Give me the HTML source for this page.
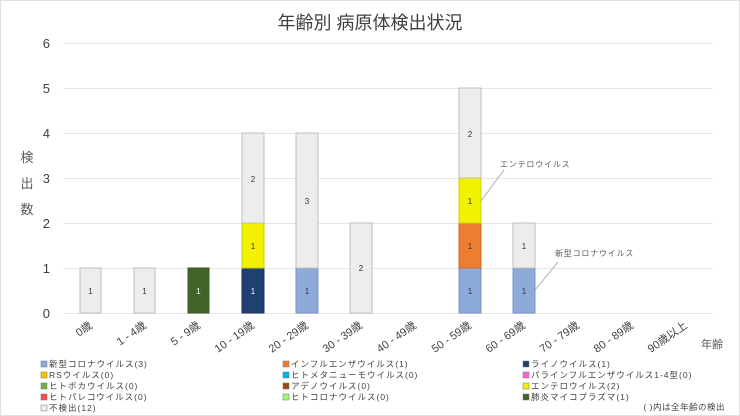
<!DOCTYPE html>
<html><head><meta charset="utf-8"><style>
body{margin:0;background:#fff;}
svg{display:block;font-family:"Liberation Sans","Noto Sans CJK JP",sans-serif;}
</style></head><body>
<svg width="740" height="416" viewBox="0 0 740 416" xmlns="http://www.w3.org/2000/svg">
<rect x="0.5" y="0.5" width="739" height="415" fill="#fff" stroke="#e0e0e0"/>
<text x="370" y="29" text-anchor="middle" font-size="18" fill="#404040">年齢別 病原体検出状況</text>
<g stroke="#e6e6e6" stroke-width="1">
<line x1="63" x2="713" y1="43.5" y2="43.5"/><line x1="63" x2="713" y1="88.5" y2="88.5"/>
<line x1="63" x2="713" y1="133.5" y2="133.5"/><line x1="63" x2="713" y1="178.5" y2="178.5"/>
<line x1="63" x2="713" y1="223.5" y2="223.5"/><line x1="63" x2="713" y1="268.5" y2="268.5"/>
<line x1="63" x2="713" y1="313.5" y2="313.5"/>
</g>
<g font-size="13" fill="#404040" text-anchor="end">
<text x="50" y="48">6</text><text x="50" y="93">5</text><text x="50" y="138">4</text>
<text x="50" y="183">3</text><text x="50" y="228">2</text><text x="50" y="273">1</text><text x="50" y="318">0</text>
</g>
<g font-size="13" fill="#595959" text-anchor="middle">
<text x="27" y="162">検</text><text x="27" y="188">出</text><text x="27" y="214">数</text>
</g>
<g stroke-width="1" font-size="8" text-anchor="middle">
<rect x="80" y="268" width="21" height="45" fill="#ededed" stroke="#bfbfbf"/><text x="90.5" y="294" fill="#333">1</text>
<rect x="134" y="268" width="21" height="45" fill="#ededed" stroke="#bfbfbf"/><text x="144.5" y="294" fill="#333">1</text>
<rect x="188" y="268" width="21" height="45" fill="#416428" stroke="#3a5824"/><text x="198.5" y="294" fill="#fff">1</text>
<rect x="242" y="268" width="22" height="45" fill="#203f73" stroke="#1a3460"/><text x="253" y="294" fill="#fff">1</text>
<rect x="242" y="223" width="22" height="45" fill="#f2f200" stroke="#d0d000"/><text x="253" y="249" fill="#333">1</text>
<rect x="242" y="133" width="22" height="90" fill="#ededed" stroke="#bfbfbf"/><text x="253" y="182" fill="#333">2</text>
<rect x="296" y="268" width="22" height="45" fill="#8eaadb" stroke="#7a94c0"/><text x="307" y="294" fill="#333">1</text>
<rect x="296" y="133" width="22" height="135" fill="#ededed" stroke="#bfbfbf"/><text x="307" y="204" fill="#333">3</text>
<rect x="350" y="223" width="22" height="90" fill="#ededed" stroke="#bfbfbf"/><text x="361" y="271" fill="#333">2</text>
<rect x="459" y="268" width="22" height="45" fill="#8eaadb" stroke="#7a94c0"/><text x="470" y="294" fill="#333">1</text>
<rect x="459" y="223" width="22" height="45" fill="#ed7d31" stroke="#d06a28"/><text x="470" y="249" fill="#333">1</text>
<rect x="459" y="178" width="22" height="45" fill="#f2f200" stroke="#d0d000"/><text x="470" y="204" fill="#333">1</text>
<rect x="459" y="88" width="22" height="90" fill="#ededed" stroke="#bfbfbf"/><text x="470" y="137" fill="#333">2</text>
<rect x="513" y="268" width="22" height="45" fill="#8eaadb" stroke="#7a94c0"/><text x="524" y="294" fill="#333">1</text>
<rect x="513" y="223" width="22" height="45" fill="#ededed" stroke="#bfbfbf"/><text x="524" y="249" fill="#333">1</text>
</g>
<g stroke="#999" stroke-width="0.7">
<line x1="481" y1="201" x2="504" y2="170"/>
<line x1="535" y1="290" x2="558" y2="262"/>
</g>
<g font-size="8" fill="#595959" letter-spacing="0.8">
<text x="500" y="167">エンテロウイルス</text>
<text x="555" y="256">新型コロナウイルス</text>
</g>
<g font-size="11" fill="#404040" text-anchor="end">
<text transform="translate(93,327) rotate(-35)">0歳</text>
<text transform="translate(147,327) rotate(-35)">1 - 4歳</text>
<text transform="translate(201,327) rotate(-35)">5 - 9歳</text>
<text transform="translate(255,327) rotate(-35)">10 - 19歳</text>
<text transform="translate(309,327) rotate(-35)">20 - 29歳</text>
<text transform="translate(363,327) rotate(-35)">30 - 39歳</text>
<text transform="translate(417,327) rotate(-35)">40 - 49歳</text>
<text transform="translate(472,327) rotate(-35)">50 - 59歳</text>
<text transform="translate(526,327) rotate(-35)">60 - 69歳</text>
<text transform="translate(580,327) rotate(-35)">70 - 79歳</text>
<text transform="translate(634,327) rotate(-35)">80 - 89歳</text>
<text transform="translate(688,327) rotate(-35)">90歳以上</text>
</g>
<text x="701" y="348" font-size="11" fill="#595959">年齢</text>
<g font-size="8.5" fill="#404040" letter-spacing="1">
<rect x="41" y="361" width="6" height="6" fill="#8eaadb" stroke="#777" stroke-width="0.5"/><text x="49" y="367">新型コロナウイルス(3)</text>
<rect x="283" y="361" width="6" height="6" fill="#ed7d31" stroke="#777" stroke-width="0.5"/><text x="291" y="367">インフルエンザウイルス(1)</text>
<rect x="523" y="361" width="6" height="6" fill="#203f73" stroke="#777" stroke-width="0.5"/><text x="531" y="367">ライノウイルス(1)</text>
<rect x="41" y="372" width="6" height="6" fill="#ffc000" stroke="#777" stroke-width="0.5"/><text x="49" y="378">RSウイルス(0)</text>
<rect x="283" y="372" width="6" height="6" fill="#00b0f0" stroke="#777" stroke-width="0.5"/><text x="291" y="378">ヒトメタニューモウイルス(0)</text>
<rect x="523" y="372" width="6" height="6" fill="#ff66cc" stroke="#777" stroke-width="0.5"/><text x="531" y="378">パラインフルエンザウイルス1-4型(0)</text>
<rect x="41" y="383" width="6" height="6" fill="#70ad47" stroke="#777" stroke-width="0.5"/><text x="49" y="389">ヒトボカウイルス(0)</text>
<rect x="283" y="383" width="6" height="6" fill="#9e480e" stroke="#777" stroke-width="0.5"/><text x="291" y="389">アデノウイルス(0)</text>
<rect x="523" y="383" width="6" height="6" fill="#f2f200" stroke="#777" stroke-width="0.5"/><text x="531" y="389">エンテロウイルス(2)</text>
<rect x="41" y="394" width="6" height="6" fill="#ff4b4b" stroke="#777" stroke-width="0.5"/><text x="49" y="400">ヒトパレコウイルス(0)</text>
<rect x="283" y="394" width="6" height="6" fill="#99ff66" stroke="#777" stroke-width="0.5"/><text x="291" y="400">ヒトコロナウイルス(0)</text>
<rect x="523" y="394" width="6" height="6" fill="#416428" stroke="#777" stroke-width="0.5"/><text x="531" y="400">肺炎マイコプラズマ(1)</text>
<rect x="41" y="405" width="6" height="6" fill="#ededed" stroke="#777" stroke-width="0.5"/><text x="49" y="411">不検出(12)</text>
<text x="725" y="410" text-anchor="end" letter-spacing="0.5">( )内は全年齢の検出</text>
</g>
</svg>
</body></html>
